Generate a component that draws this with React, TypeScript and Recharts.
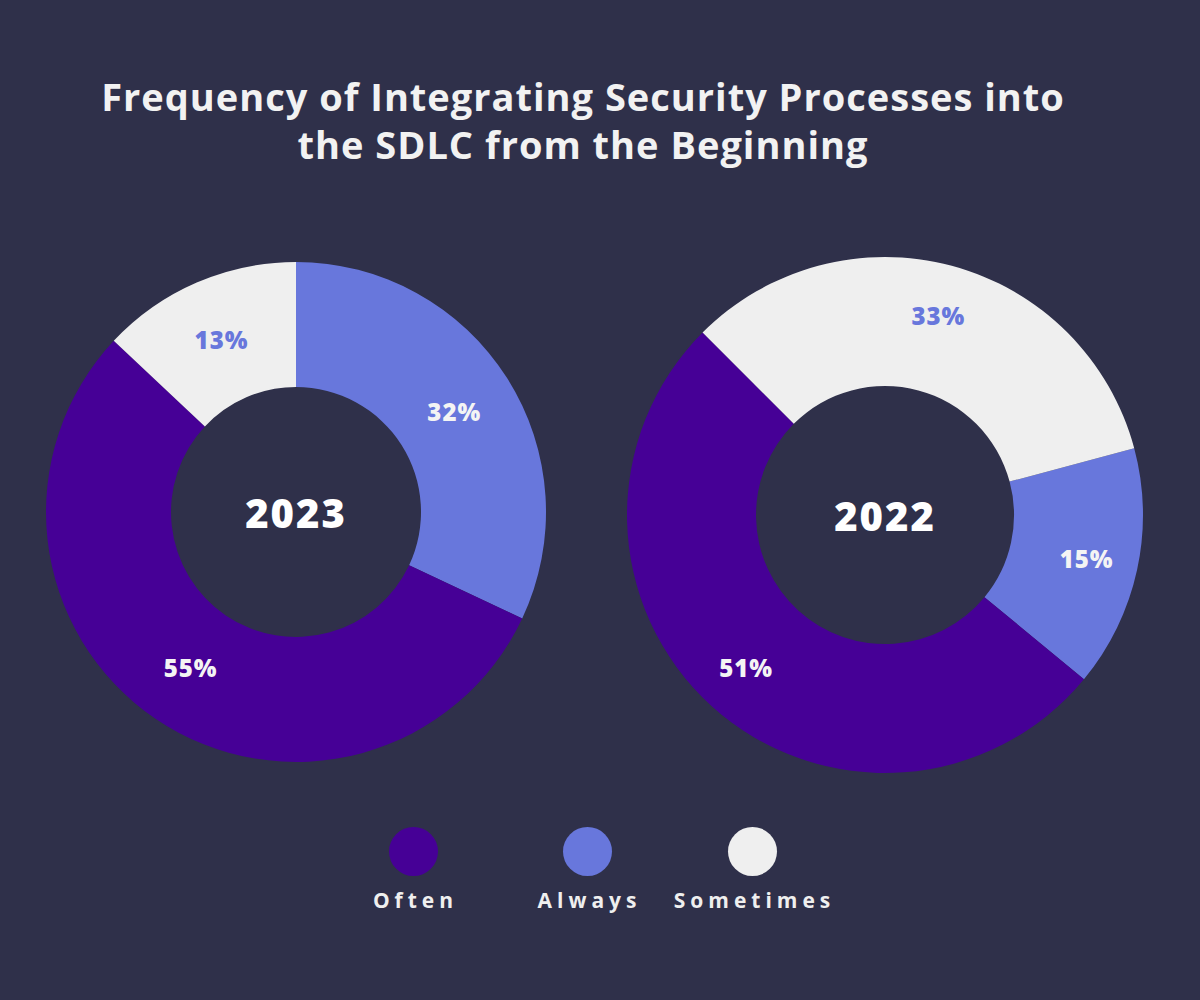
import { PieChart, Pie, Cell, Legend } from 'recharts'

const sliceNames = ['Always', 'Often', 'Sometimes']
const values2023 = [32, 55, 13]
const values2022 = [15, 51, 33]
const legendNames = ['Often', 'Always', 'Sometimes']

const COLORS: Record<string, string> = {
  Often: '#460096',
  Always: '#6877DC',
  Sometimes: '#EFEFEF',
}
const BG = '#2F304A'
const FONT = '"Open Sans", "DejaVu Sans", sans-serif'
const RADIAN = Math.PI / 180

const data2023 = sliceNames.map((name, i) => ({ name, value: values2023[i] }))
const data2022 = sliceNames.map((name, i) => ({ name, value: values2022[i] }))

// slice % labels, plus the year in the hole (drawn once, with the first slice)
const makeLabel = (frac: number, year: string) => (props: any) => {
  const { cx, cy, midAngle, innerRadius, outerRadius, value, name, index } = props
  const r = innerRadius + (outerRadius - innerRadius) * frac
  const x = cx + r * Math.cos(-midAngle * RADIAN)
  const y = cy + r * Math.sin(-midAngle * RADIAN)
  return (
    <g>
      <text
        x={x}
        y={y}
        textAnchor="middle"
        dominantBaseline="central"
        fill={name === 'Sometimes' ? COLORS.Always : '#F4F4F4'}
        fontSize={24}
        fontWeight={800}
        fontFamily={FONT}
        letterSpacing={1}
      >
        {`${value}%`}
      </text>
      {index === 0 && (
        <text
          x={cx}
          y={cy}
          textAnchor="middle"
          dominantBaseline="central"
          fill="#FFFFFF"
          fontSize={40}
          fontWeight={800}
          fontFamily={FONT}
          letterSpacing={2}
        >
          {year}
        </text>
      )}
    </g>
  )
}

const legendX = [413, 587, 752]

function LegendContent() {
  return (
    <div style={{ position: 'relative', width: 1200, height: 100 }}>
      {legendNames.map((name, i) => (
        <div
          key={name}
          style={{
            position: 'absolute',
            left: legendX[i] - 100,
            top: 0,
            width: 200,
            textAlign: 'center',
          }}
        >
          <div
            style={{
              width: 49,
              height: 49,
              borderRadius: '50%',
              background: COLORS[name],
              margin: '0 auto',
            }}
          />
          <div
            style={{
              marginTop: 10,
              paddingLeft: 5,
              color: '#EFEFEF',
              fontFamily: FONT,
              fontWeight: 700,
              fontSize: 21,
              letterSpacing: 5,
            }}
          >
            {name}
          </div>
        </div>
      ))}
    </div>
  )
}

export default function App() {
  return (
    <div style={{ position: 'absolute', left: 0, top: 0, width: 1200, height: 1000, background: BG, overflow: 'hidden' }}>
      <div
        style={{
          position: 'absolute',
          top: 72,
          left: 0,
          width: 1166,
          textAlign: 'center',
          color: '#F2F2F2',
          fontFamily: FONT,
          fontWeight: 700,
          fontSize: 38,
          letterSpacing: 1,
          lineHeight: '48px',
        }}
      >
        Frequency of Integrating Security Processes into
        <br />
        the SDLC from the Beginning
      </div>
      <div style={{ position: 'absolute', left: 0, top: 0 }}>
        <PieChart width={1200} height={1000} margin={{ top: 0, right: 0, bottom: 0, left: 0 }}>
          <Pie
            data={data2023}
            dataKey="value"
            nameKey="name"
            cx={296}
            cy={512}
            innerRadius={125}
            outerRadius={250}
            startAngle={90}
            endAngle={-270}
            stroke="none"
            labelLine={false}
            label={makeLabel(0.5, '2023')}
            isAnimationActive={false}
          >
            {data2023.map(d => (
              <Cell key={d.name} fill={COLORS[d.name]} />
            ))}
          </Pie>
          <Pie
            data={data2022}
            dataKey="value"
            nameKey="name"
            cx={885}
            cy={515}
            innerRadius={129}
            outerRadius={258}
            startAngle={15}
            endAngle={-345}
            stroke="none"
            labelLine={false}
            label={makeLabel(0.6, '2022')}
            isAnimationActive={false}
          >
            {data2022.map(d => (
              <Cell key={d.name} fill={COLORS[d.name]} />
            ))}
          </Pie>
          <Legend
            content={<LegendContent />}
            wrapperStyle={{ position: 'absolute', left: 0, top: 827, width: 1200 }}
          />
        </PieChart>
      </div>
    </div>
  )
}
